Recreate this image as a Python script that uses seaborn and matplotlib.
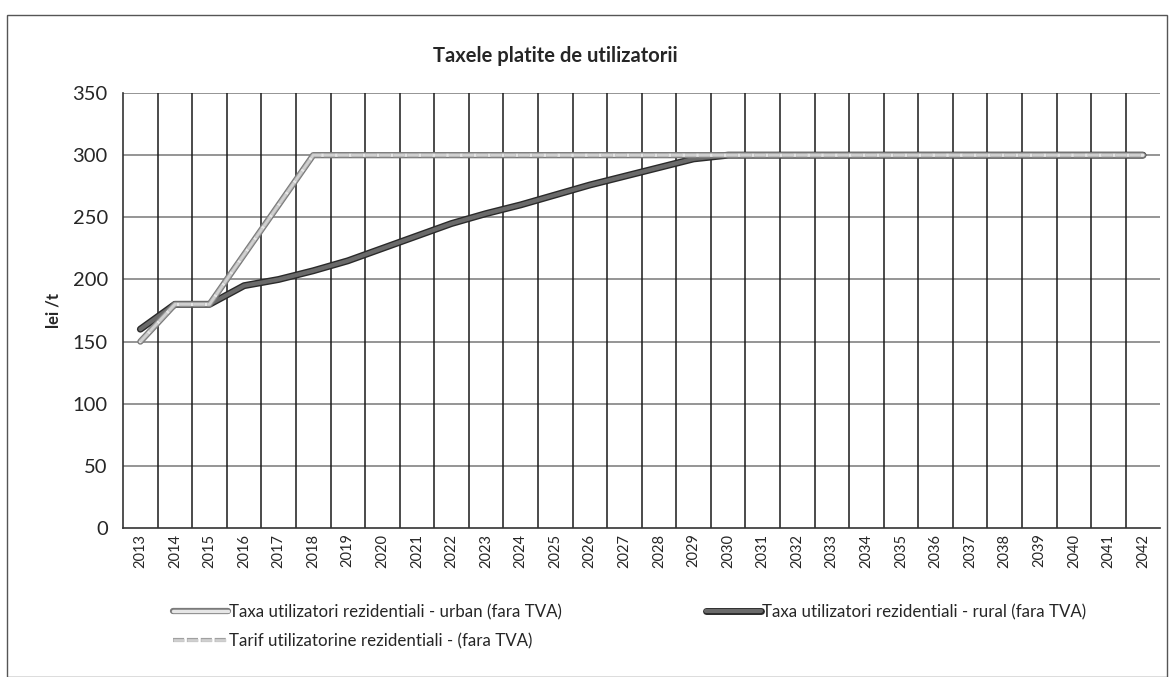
import numpy as np
import pandas as pd
import matplotlib
matplotlib.use("Agg")
import matplotlib.pyplot as plt
import matplotlib.patheffects as pe
import seaborn as sns

# Data
years = list(range(2013, 2043))
urban = [150, 180, 180, 220, 260, 300] + [300] * 24
rural = [160, 180, 180, 195, 200, 207, 215, 225, 235, 245, 253, 260,
         268, 276, 283, 290, 297, 300] + [300] * 12
tarif = [150, 180, 180, 220, 260, 300] + [300] * 24

labels = ["Taxa utilizatori rezidentiali - urban (fara TVA)",
          "Taxa utilizatori rezidentiali - rural (fara TVA)",
          "Tarif utilizatorine rezidentiali - (fara TVA)"]

df = pd.DataFrame({"pos": np.arange(len(years)), "year": years,
                   "urban": urban, "rural": rural, "tarif": tarif})

sns.set_theme(style="white")
plt.rcParams["font.family"] = ["Lato", "DejaVu Sans"]

fig = plt.figure(figsize=(11.72, 6.77), dpi=100)
ax = fig.add_axes([0.105, 0.22, 0.885, 0.6426])

# lines (rural drawn first so the light lines sit on top where they meet)
sns.lineplot(data=df, x="pos", y="rural", ax=ax, color="#6a6a6a", lw=3,
             label=labels[1],
             path_effects=[pe.Stroke(linewidth=5, foreground="#2a2a2a"), pe.Normal()])
sns.lineplot(data=df, x="pos", y="urban", ax=ax, color="#e6e6e6", lw=2.5,
             label=labels[0],
             path_effects=[pe.Stroke(linewidth=4.5, foreground="#7a7a7a"), pe.Normal()])
sns.lineplot(data=df, x="pos", y="tarif", ax=ax, color="#d0d0d0", lw=2,
             linestyle=(0, (4, 1)), label=labels[2],
             path_effects=[pe.Stroke(linewidth=3, foreground="#a0a0a0"), pe.Normal()])

ax.set_xlim(-0.5, len(years) - 0.5)
ax.set_ylim(0, 350)
ax.set_yticks(range(0, 351, 50))
ax.set_yticklabels([str(v) for v in range(0, 351, 50)], fontsize=14.5)
ax.set_xticks(df["pos"])
ax.set_xticklabels([str(y) for y in years], rotation=90, fontsize=10.5)
ax.tick_params(axis="x", length=0, pad=4)
ax.tick_params(axis="y", length=5, width=1, color="#333333", direction="out", pad=6)

# gridlines: horizontal grey, vertical black between categories
for v in range(50, 351, 50):
    ax.axhline(v, color="#8c8c8c", lw=1.3, zorder=0)
for b in np.arange(0.5, len(years) - 0.5, 1):
    ax.axvline(b, color="#1a1a1a", lw=1.1, zorder=0)
# little ticks below the x axis at category boundaries
ax.set_xticks(np.arange(-0.5, len(years), 1), minor=True)
ax.tick_params(axis="x", which="minor", length=5, width=1, color="#333333", direction="out")

for side in ["top", "right"]:
    ax.spines[side].set_visible(False)
ax.spines["left"].set_color("#333333")
ax.spines["bottom"].set_color("#333333")
ax.spines["left"].set_linewidth(1.2)
ax.spines["bottom"].set_linewidth(1.2)

ax.set_xlabel("")
ax.set_ylabel("lei /t", fontsize=12, fontweight="bold", labelpad=8)

fig.text(0.474, 0.918, "Taxele platite de utilizatorii", ha="center", va="center",
         fontsize=14.5, fontweight="bold")

# legend: urban and tarif in first column, rural in second
handles, labs = ax.get_legend_handles_labels()
order = [1, 2, 0]
fig.legend([handles[i] for i in order], [labs[i] for i in order],
           loc="upper left", bbox_to_anchor=(0.135, 0.13), ncol=2,
           frameon=False, fontsize=12.2, handlelength=3.2, handletextpad=0.1,
           columnspacing=8.5, labelspacing=0.75)
ax.get_legend().remove()

# outer chart border
fig.add_artist(plt.Rectangle((0.006, 0.0), 0.99, 0.978, transform=fig.transFigure,
                             fill=False, edgecolor="#555555", lw=1))

fig.savefig("out.png", dpi=100)
